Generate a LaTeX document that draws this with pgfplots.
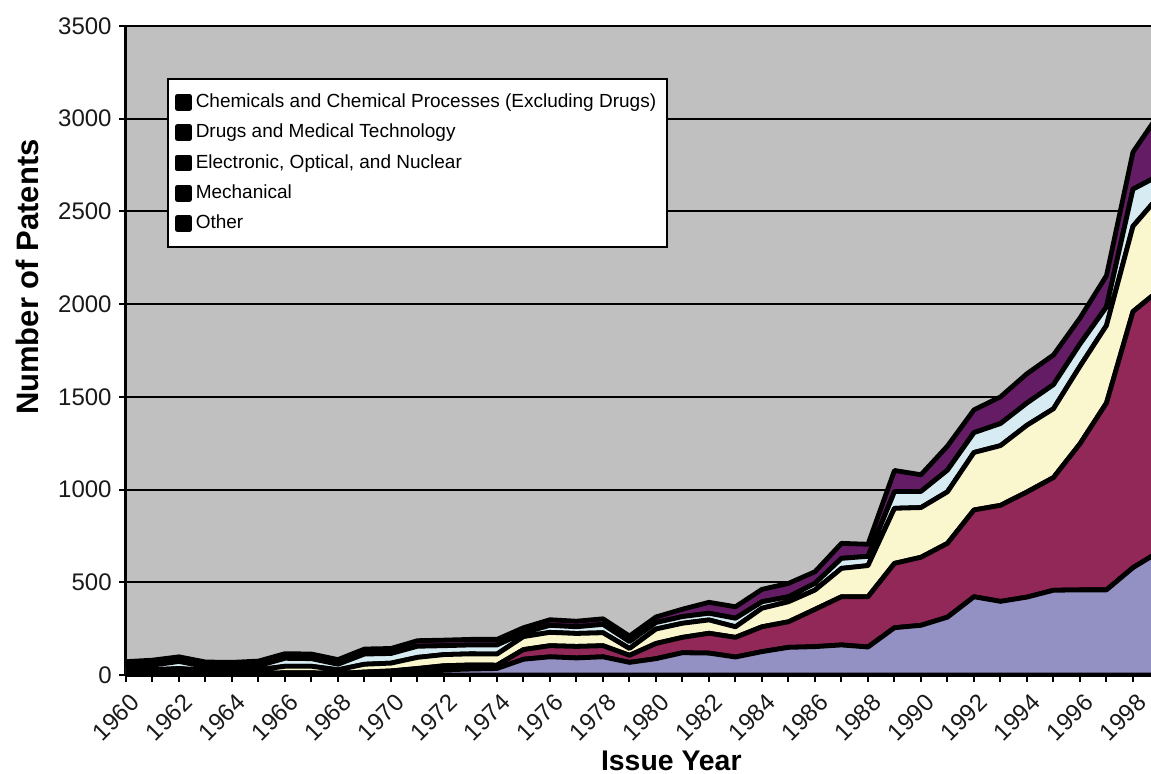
\documentclass[border=0pt]{standalone}
\usepackage{pgfplots}
\pgfplotsset{compat=1.18}
\usepackage{pgfplotstable}
\usepackage{fontspec}
\setmainfont{Liberation Sans}
\definecolor{bgray}{RGB}{192,192,192}
\definecolor{cchem}{RGB}{147,144,196}
\definecolor{cdrug}{RGB}{146,40,88}
\definecolor{celec}{RGB}{250,246,205}
\definecolor{cmech}{RGB}{214,236,242}
\definecolor{cother}{RGB}{100,28,100}
\pgfplotstableread{
year chem drugs elec mech other
1960 3 5 17 22 25
1961 3 5 20 25 27
1962 4 6 25 38 25
1963 3 5 17 20 25
1964 3 5 17 18 25
1965 3 5 20 22 25
1966 4 8 35 43 25
1967 4 8 35 41 25
1968 3 5 20 30 25
1969 6 10 42 55 27
1970 10 12 42 52 27
1971 20 15 60 60 30
1972 28 22 60 48 30
1973 32 22 60 48 30
1974 35 18 60 49 30
1975 85 52 70 20 28
1976 98 60 72 38 30
1977 92 62 70 36 30
1978 98 60 70 45 30
1979 68 38 37 37 30
1980 88 82 78 35 30
1981 120 83 76 36 40
1982 118 107 72 36 59
1983 97 106 57 46 62
1984 126 134 100 35 67
1985 149 138 108 27 72
1986 153 201 104 36 63
1987 162 260 153 54 81
1988 151 271 168 50 65
1989 255 347 297 90 114
1990 268 367 268 87 90
1991 312 398 278 117 130
1992 422 468 310 107 123
1993 397 518 322 119 144
1994 420 567 360 120 158
1995 457 608 371 130 160
1996 459 788 418 120 140
1997 459 1008 418 100 169
1998 579 1381 460 200 200
1999 666 1410 509 110 334
}\patents
\begin{document}
\begin{tikzpicture}
\begin{axis}[
  scale only axis, width=512.5bp, height=324.5bp,
  xmin=1960, xmax=1998.68, ymin=0, ymax=3500,
  stack plots=y,
  axis lines=left,
  axis line style={-, line width=1.5bp, black},
  axis background/.style={fill=bgray},
  ytick={0,500,...,3500},
  ymajorgrids, grid style={black, line width=1bp},
  xtick={1960,1962,...,1998}, minor xtick={1961,1963,...,1999},
  tick align=outside, major tick length=3.5bp, minor tick length=3.5bp,
  tick style={black, line width=1bp},
  every minor tick/.style={black, line width=1bp},
  /pgf/number format/assume math mode=true,
  /pgf/number format/1000 sep={},
  tick label style={font=\fontsize{12bp}{14bp}\selectfont, text=black!90},
  xticklabel style={rotate=45, anchor=east, inner sep=1bp, xshift=-1.5bp, yshift=-9bp},
  yticklabel style={inner sep=2bp, xshift=-1.5bp},
  ylabel={Number of Patents},
  ylabel style={font=\fontsize{15.5bp}{18bp}\selectfont\bfseries, at={(axis description cs:-0.0966,0.613)}, anchor=center, rotate=0},
  xlabel={Issue Year},
  xlabel style={font=\fontsize{14.2bp}{17bp}\selectfont\bfseries, at={(axis description cs:0.532,-0.1325)}, anchor=center},
  legend style={at={(axis description cs:0.04,0.92)}, anchor=north west, draw=black, line width=1bp, fill=white,
     font=\fontsize{9.5bp}{11.4bp}\selectfont, row sep=2.8bp, inner xsep=3.5bp, inner ysep=5.5bp},
  legend cell align=left,
  legend image code/.code={\fill[black] (0bp,-3bp) rectangle (6bp,3bp);},
  every axis plot/.append style={draw=black, line width=2.4bp, line join=round},
]
\addplot[fill=cchem] table[x=year,y=chem]{\patents} \closedcycle;
\addplot[fill=cdrug] table[x=year,y=drugs]{\patents} \closedcycle;
\addplot[fill=celec] table[x=year,y=elec]{\patents} \closedcycle;
\addplot[fill=cmech] table[x=year,y=mech]{\patents} \closedcycle;
\addplot[fill=cother] table[x=year,y=other]{\patents} \closedcycle;
\legend{Chemicals and Chemical Processes (Excluding Drugs), Drugs and Medical Technology, {Electronic, Optical, and Nuclear}, Mechanical, Other}
\end{axis}
\pgfresetboundingbox
\path[use as bounding box] (-63bp,-49.5bp) rectangle (512.5bp,337.5bp);
\end{tikzpicture}
\end{document}
